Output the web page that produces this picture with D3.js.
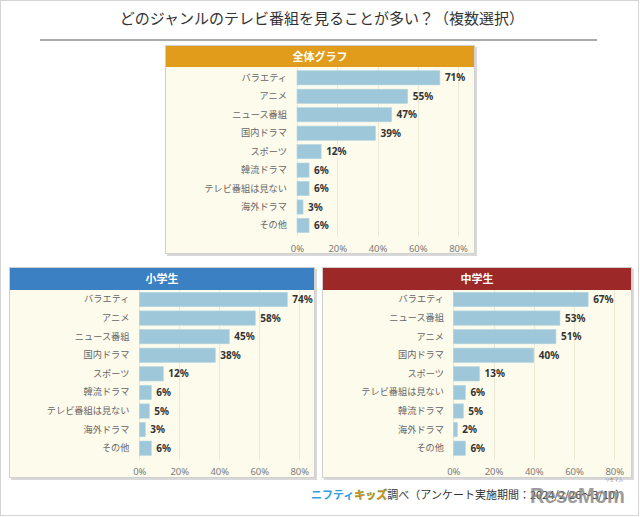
<!DOCTYPE html>
<html><head><meta charset="utf-8">
<script src="https://cdn.jsdelivr.net/npm/d3@7"></script>
<style>
html,body{margin:0;padding:0;background:#fff;}
svg{display:block;font-family:"Noto Sans","Noto Sans CJK JP",sans-serif;}
</style></head>
<body>
<script>
// ---- data ----
const titleText = "どのジャンルのテレビ番組を見ることが多い？（複数選択）";
const ticks = [0, 20, 40, 60, 80];

const allCategories = ["バラエティ","アニメ","ニュース番組","国内ドラマ","スポーツ","韓流ドラマ","テレビ番組は見ない","海外ドラマ","その他"];
const allValues = [71, 55, 47, 39, 12, 6, 6, 3, 6];

const elemCategories = ["バラエティ","アニメ","ニュース番組","国内ドラマ","スポーツ","韓流ドラマ","テレビ番組は見ない","海外ドラマ","その他"];
const elemValues = [74, 58, 45, 38, 12, 6, 5, 3, 6];

const juniorCategories = ["バラエティ","ニュース番組","アニメ","国内ドラマ","スポーツ","テレビ番組は見ない","韓流ドラマ","海外ドラマ","その他"];
const juniorValues = [67, 53, 51, 40, 13, 6, 5, 2, 6];

const W = 640, H = 517;
const svg = d3.select("body").append("svg").attr("width", W).attr("height", H);

// outer frame
svg.append("rect").attr("x", 0.5).attr("y", 0.5).attr("width", W - 2).attr("height", H - 2)
  .attr("fill", "#fff").attr("stroke", "#d4d4d4");

// title
svg.append("text").attr("x", 322).attr("y", 24).attr("text-anchor", "middle")
  .attr("font-size", 15).attr("fill", "#333").text(titleText);
svg.append("line").attr("x1", 40).attr("x2", 597).attr("y1", 40).attr("y2", 40)
  .attr("stroke", "#aaa").attr("stroke-width", 2);

function panel(cfg) {
  const g = svg.append("g");
  // shadow
  g.append("rect").attr("x", cfg.x0 + 2).attr("y", cfg.y0 + 2)
    .attr("width", cfg.x1 - cfg.x0).attr("height", cfg.y1 - cfg.y0).attr("fill", "#d9d9d9");
  g.append("rect").attr("x", cfg.x0 + 0.5).attr("y", cfg.y0 + 0.5)
    .attr("width", cfg.x1 - cfg.x0 - 1).attr("height", cfg.y1 - cfg.y0 - 1)
    .attr("fill", "#fdfbec").attr("stroke", "#cfcfcf");
  g.append("rect").attr("x", cfg.x0 + 1).attr("y", cfg.y0 + 1)
    .attr("width", cfg.x1 - cfg.x0 - 2).attr("height", cfg.hh)
    .attr("fill", cfg.color);
  g.append("text").attr("x", (cfg.x0 + cfg.x1) / 2).attr("y", cfg.y0 + 1 + cfg.hh / 2 + 4)
    .attr("text-anchor", "middle").attr("font-size", 11).attr("font-weight", "bold")
    .attr("fill", "#fff").text(cfg.title);

  const x = d3.scaleLinear().domain([0, 80]).range([cfg.zx, cfg.ex]);
  const y = d3.scaleBand().domain(cfg.cats).range([cfg.ry0, cfg.ry1])
    .paddingInner(0.23).paddingOuter(0.115);

  // gridlines
  g.selectAll(".grid").data(ticks).join("line")
    .attr("x1", d => Math.round(x(d)) + 0.5).attr("x2", d => Math.round(x(d)) + 0.5)
    .attr("y1", cfg.y0 + cfg.hh + 1).attr("y2", cfg.ry1 + 2)
    .attr("stroke", "#ece8d3").attr("stroke-width", 1);

  // x axis labels
  const ax = g.append("g").attr("transform", `translate(0,${cfg.axY})`)
    .call(d3.axisBottom(x).tickValues(ticks).tickFormat(d => d + "%").tickSize(0).tickPadding(0));
  ax.select(".domain").remove();
  ax.selectAll("text").attr("font-size", 9.5).attr("fill", "#7a7a7a")
    .attr("font-family", "\"Noto Sans\",sans-serif").attr("dy", 0);

  // y axis labels
  const ay = g.append("g").attr("transform", `translate(${cfg.lx},0)`)
    .call(d3.axisLeft(y).tickSize(0).tickPadding(0));
  ay.select(".domain").remove();
  ay.selectAll("text").attr("font-size", 9.2).attr("fill", "#666")
    .attr("font-family", "\"Noto Sans CJK JP\",sans-serif");

  const data = cfg.cats.map((c, i) => ({ c, v: cfg.vals[i] }));
  g.selectAll(".bar").data(data).join("rect")
    .attr("x", x(0)).attr("y", d => y(d.c))
    .attr("width", d => x(d.v) - x(0)).attr("height", y.bandwidth())
    .attr("fill", "#9ec8d9").attr("stroke", "#b4d6e3").attr("stroke-width", 0.6);
  g.selectAll(".val").data(data).join("text")
    .attr("x", d => x(d.v) + 5).attr("y", d => y(d.c) + y.bandwidth() / 2 + 3.6)
    .attr("font-size", 10).attr("font-weight", "bold").attr("fill", "#333")
    .text(d => d.v + "%");
}

panel({ title: "全体グラフ", color: "#e09c1a", x0: 165, x1: 475, y0: 45, y1: 254, hh: 21,
  zx: 297, ex: 458, lx: 287, ry0: 68.6, ry1: 234.7, axY: 252, cats: allCategories, vals: allValues });
panel({ title: "小学生", color: "#3a80c3", x0: 9, x1: 315, y0: 267, y1: 478, hh: 22,
  zx: 139.3, ex: 299.3, lx: 129.5, ry0: 290.2, ry1: 457.5, axY: 474.5, cats: elemCategories, vals: elemValues });
panel({ title: "中学生", color: "#9c2828", x0: 322, x1: 632, y0: 267, y1: 478, hh: 22,
  zx: 453.3, ex: 614.3, lx: 444, ry0: 290.2, ry1: 457.5, axY: 474.5, cats: juniorCategories, vals: juniorValues });

// footer
const ft = svg.append("text").attr("x", 311).attr("y", 499).attr("font-size", 11)
  .attr("font-family", "\"Noto Sans CJK JP\",sans-serif");
ft.append("tspan").attr("fill", "#2f9fe0").attr("font-weight", "bold").text("ニフティ");
ft.append("tspan").attr("fill", "#f08a10").attr("font-weight", "bold").attr("stroke", "#4a9a30").attr("stroke-width", 0.4).text("キッズ");
ft.append("tspan").attr("fill", "#333").text("調べ（アンケート実施期間：2024/2/26～3/10）");

// watermark
svg.append("text").attr("x", 530).attr("y", 503).attr("font-size", 22).attr("font-weight", "bold")
  .attr("fill", "#7d7d7d").attr("opacity", 0.75).attr("font-family", "\"Liberation Sans\",sans-serif")
  .attr("textLength", 95).attr("lengthAdjust", "spacingAndGlyphs").text("ReseMom");
svg.append("text").attr("x", 614).attr("y", 481).attr("font-size", 4.5).attr("text-anchor", "middle")
  .attr("fill", "#7d7d7d").attr("font-family", "\"Noto Sans CJK JP\",sans-serif").text("リセマム");
</script>
</body></html>
